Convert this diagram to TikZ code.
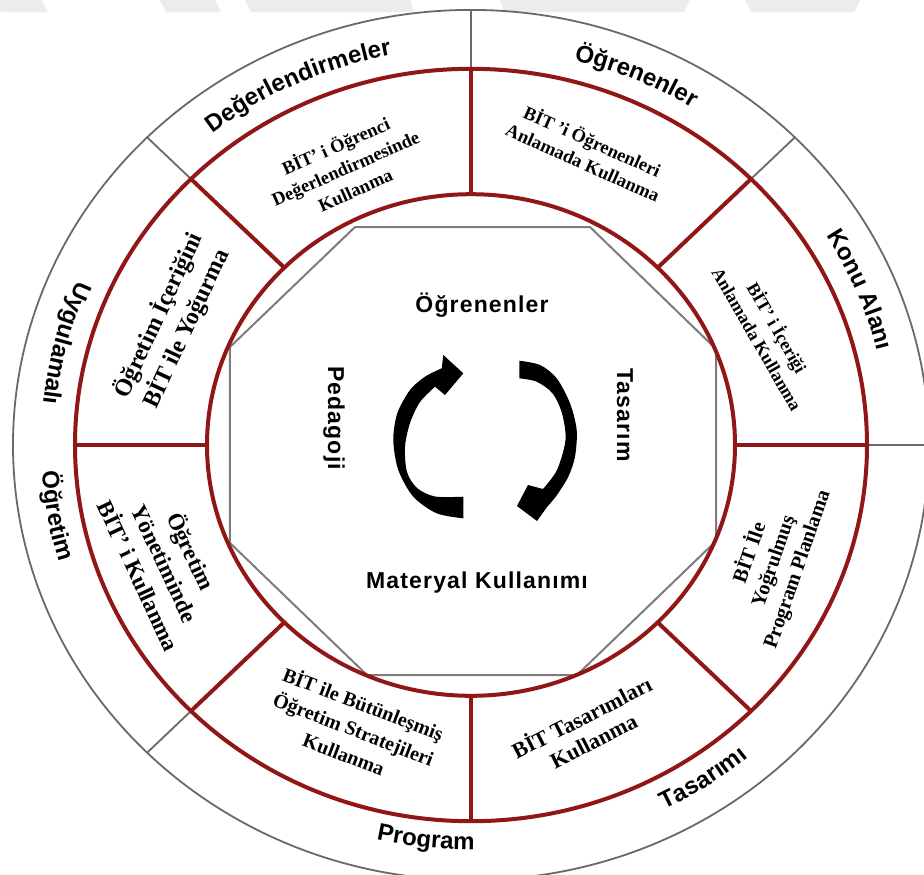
\documentclass[tikz,border=0pt]{standalone}
\usepackage{fontspec}
\setmainfont{Liberation Serif}
\setsansfont{Liberation Sans}
\newfontfamily\hubfont[LetterSpace=5]{Liberation Sans}
\usetikzlibrary{decorations.text}

\definecolor{ringred}{RGB}{145,22,22}
\definecolor{ringgray}{RGB}{105,105,105}
\definecolor{octgray}{RGB}{125,125,125}
\definecolor{markgray}{RGB}{236,236,236}

\newcommand\ringfont{\sffamily\bfseries\fontsize{12}{14}\selectfont}

% curved label on the outer ring: centre angle, baseline radius, direction (-1 clockwise, 1 counter-clockwise), text
\newcommand\ringtext[4]{%
  \pgfmathsetmacro\rtstart{#1-(#3)*40}%
  \pgfmathsetmacro\rtend{#1+(#3)*40}%
  \pgfmathsetmacro\rtyr{0.95*#2}%
  \path[decorate,decoration={text along path,text align=center,text={|\ringfont|#4}}]
    (\rtstart:#2 and \rtyr) arc[start angle=\rtstart,end angle=\rtend,x radius=#2,y radius=\rtyr];%
}

\tikzset{
  redline/.style={draw=ringred, line width=2pt},
  grayline/.style={draw=ringgray, line width=0.9pt},
  octline/.style={draw=octgray, line width=1pt},
  sectortext/.style 2 args={font=\rmfamily\bfseries\fontsize{#1}{#2}\selectfont, align=center, inner sep=0pt},
  hubtext/.style={font=\hubfont\bfseries\fontsize{11.5}{14}\selectfont, inner sep=0pt},
  arrowfill/.style={fill=black},
  markfill/.style={fill=markgray},
}

\begin{document}
\begin{tikzpicture}[x=0.5pt,y=0.5pt]
\useasboundingbox (-471,-429) rectangle (453,445);
\fill[white] (-471,-429) rectangle (453,445);

% pale band pieces along the top edge
\fill[markfill] (-476,445) -- (-429,445) -- (-423,433) -- (-470,433) -- cycle;
\fill[markfill] (-311,445) -- (-256,445) -- (-250,433) -- (-305,433) -- cycle;
\fill[markfill] (-226,445) -- (-61,445) -- (-57,433) -- (-220,433) -- cycle;
\fill[markfill] (29,445) -- (219,445) -- (213,433) -- (33,433) -- cycle;
\fill[markfill] (274,445) -- (389,445) -- (383,433) -- (280,433) -- cycle;

% central octagon
\draw[octline] (-116,218) -- (119,218) -- (245,96) -- (245,-96) -- (106,-230)
  -- (-104,-230) -- (-241,-98) -- (-241,98) -- cycle;

% cycle arrows
\fill[arrowfill] plot[smooth] coordinates {(-7.7,-73.3) (-34.3,-68.3) (-57.7,-51.7) (-72.7,-25) (-77.7,5) (-73.7,31.7) (-61,55) (-46,68.3) (-29.3,76.7)}
  -- (-27.7,90) -- (-7.7,71.7) -- (-26,50) -- (-36,58.3)
  -- plot[smooth] coordinates {(-36,58.3) (-51,43) (-61,22) (-66,-2) (-64,-27) (-54,-43) (-36,-51.5) (-7.7,-51.7)} -- cycle;
\fill[arrowfill] plot[smooth] coordinates {(48.3,84.3) (69,80) (85.7,66.7) (99,41.7) (105.7,15) (104,-11.7) (97.3,-31.7) (86,-50) (76,-62)}
  -- (66,-76) -- (46,-61) -- (57,-40) -- (72,-44)
  -- plot[smooth] coordinates {(72,-44) (86,-25) (94.5,5) (91,31.7) (81.5,51.7) (65.7,63.3) (48.3,66.7)} -- cycle;

% outer gray ring
\draw[grayline] (0,0) ellipse[x radius=458, y radius=435.1];
\foreach \a in {0,45,90,135,225}
  \draw[grayline] (\a:396 and 376.2) -- (\a:458 and 435.1);

% red ring with eight sectors
\draw[redline] (0,0) ellipse[x radius=264, y radius=250.8];
\draw[redline] (0,0) ellipse[x radius=396, y radius=376.2];
\foreach \a in {0,45,...,315}
  \draw[redline] (\a:264 and 250.8) -- (\a:396 and 376.2);

% outer ring labels
\ringtext{115}{418}{-1}{Değerlendirmeler}
\ringtext{66.5}{418}{-1}{Öğrenenler}
\ringtext{22.3}{418}{-1}{Konu Alanı}
\ringtext{165.5}{430}{1}{Uygulamalı}
\ringtext{190}{430}{1}{Öğretim}
\ringtext{263.7}{426}{1}{Program}
\ringtext{304}{430}{1}{Tasarımı}

% sector texts
\node[sectortext={9.25}{12}, rotate=24]   (s1) at (-126,278) {BİT’ i Öğrenci\\Değerlendirmesinde\\Kullanma};
\node[sectortext={9.25}{11.5}, rotate=-24] (s2) at (117,294) {BİT ’i Öğrenenleri\\Anlamada Kullanma};
\node[sectortext={9}{11.5}, rotate=-60]   (s3) at (297,112) {BİT’ i İçeriği\\Anlamada Kullanma};
\node[sectortext={10.25}{12.5}, rotate=71] (s4) at (302,-116) {BİT İle\\Yoğrulmuş\\Program Planlama};
\node[sectortext={11}{13}, rotate=27]     (s5) at (116,-283) {BİT Tasarımları\\Kullanma};
\node[sectortext={10}{13.5}, rotate=-21]  (s6) at (-117,-283) {BİT ile Bütünleşmiş\\Öğretim Stratejileri\\Kullanma};
\node[sectortext={11.5}{14.5}, rotate=-65] (s7) at (-305,-118) {Öğretim\\Yönetiminde\\BİT’ i Kullanma};
\node[sectortext={12}{15.5}, rotate=65]   (s8) at (-299,123) {Öğretim İçeriğini\\BİT ile Yoğurma};

% centre labels
\node[hubtext] (h1) at (11,140) {Öğrenenler};
\node[hubtext] (h2) at (6,-138) {Materyal Kullanımı};
\node[hubtext, rotate=-90] (h3) at (-137,27) {Pedagoji};
\node[hubtext, rotate=-90] (h4) at (154,30) {Tasarım};
\end{tikzpicture}
\end{document}
